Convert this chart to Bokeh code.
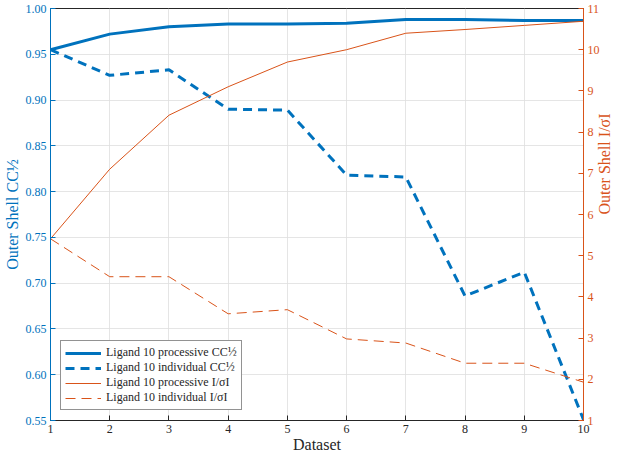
import math
from bokeh.plotting import figure
from bokeh.models import Range1d, LinearAxis, FixedTicker, Legend, LegendItem, NumeralTickFormatter
from bokeh.embed import file_html
from bokeh.resources import INLINE

datasets = [1, 2, 3, 4, 5, 6, 7, 8, 9, 10]
cc_processive = [0.955, 0.972, 0.980, 0.983, 0.983, 0.984, 0.988, 0.988, 0.987, 0.987]
cc_individual = [0.955, 0.927, 0.933, 0.890, 0.889, 0.818, 0.816, 0.686, 0.712, 0.551]
isig_processive = [5.41, 7.10, 8.41, 9.10, 9.70, 10.0, 10.40, 10.49, 10.59, 10.69]
isig_individual = [5.41, 4.49, 4.49, 3.59, 3.69, 2.98, 2.88, 2.39, 2.39, 1.93]
left_ticks = [0.55, 0.60, 0.65, 0.70, 0.75, 0.80, 0.85, 0.90, 0.95, 1.00]
right_ticks = [1, 2, 3, 4, 5, 6, 7, 8, 9, 10, 11]

BLUE = "#0072BD"
ORANGE = "#D95319"
DARK = "#262626"
FONT = "Liberation Serif"

p = figure(width=624, height=455, output_backend="svg", toolbar_location=None,
           x_range=Range1d(1, 10), y_range=Range1d(0.55, 1.00),
           min_border_left=44, min_border_right=30, min_border_top=8, min_border_bottom=30)
p.extra_y_ranges = {"right": Range1d(1, 11)}
p.outline_line_color = DARK
p.background_fill_color = "white"

r1 = p.line(datasets, cc_processive, line_color=BLUE, line_width=3)
r2 = p.line(datasets, cc_individual, line_color=BLUE, line_width=3, line_dash="9 6")
r3 = p.line(datasets, isig_processive, line_color=ORANGE, line_width=1, y_range_name="right")
r4 = p.line(datasets, isig_individual, line_color=ORANGE, line_width=1, line_dash="10 6", y_range_name="right")

# bottom axis
xa = p.xaxis[0]
xa.ticker = FixedTicker(ticks=datasets)
xa.axis_label = "Dataset"
xa.axis_label_text_font = FONT
xa.axis_label_text_font_style = "normal"
xa.axis_label_text_font_size = "16px"
xa.axis_label_text_color = DARK
xa.axis_label_standoff = 0
xa.major_label_standoff = 4
xa.major_label_text_font = FONT
xa.major_label_text_font_size = "12px"
xa.major_label_text_color = DARK
xa.axis_line_color = DARK
xa.major_tick_line_color = DARK
xa.major_tick_in = 5
xa.major_tick_out = 0
xa.minor_tick_line_color = None

# left axis
ya = p.yaxis[0]
ya.ticker = FixedTicker(ticks=left_ticks)
ya.formatter = NumeralTickFormatter(format="0.00")
ya.axis_label = "Outer Shell CC½"
ya.axis_label_text_font = FONT
ya.axis_label_text_font_style = "normal"
ya.axis_label_text_font_size = "16px"
ya.axis_label_text_color = BLUE
ya.axis_label_standoff = 2
ya.major_label_standoff = 4
ya.major_label_text_font = FONT
ya.major_label_text_font_size = "12px"
ya.major_label_text_color = BLUE
ya.axis_line_color = BLUE
ya.major_tick_line_color = BLUE
ya.major_tick_in = 5
ya.major_tick_out = 0
ya.minor_tick_line_color = None

# right axis
ra = LinearAxis(y_range_name="right", ticker=FixedTicker(ticks=right_ticks))
ra.axis_label = "Outer Shell I/σI"
ra.axis_label_orientation = math.pi / 2
ra.axis_label_text_font = FONT
ra.axis_label_text_font_style = "normal"
ra.axis_label_text_font_size = "16px"
ra.axis_label_text_color = ORANGE
ra.axis_label_standoff = 2
ra.major_label_standoff = 4
ra.major_label_text_font = FONT
ra.major_label_text_font_size = "12px"
ra.major_label_text_color = ORANGE
ra.axis_line_color = ORANGE
ra.major_tick_line_color = ORANGE
ra.major_tick_in = 5
ra.major_tick_out = 0
ra.minor_tick_line_color = None
p.add_layout(ra, "right")

p.xgrid.ticker = FixedTicker(ticks=datasets)
p.ygrid.ticker = FixedTicker(ticks=left_ticks)
p.grid.grid_line_color = "#dfdfdf"
p.grid.grid_line_alpha = 0.8

legend = Legend(items=[
    LegendItem(label="Ligand 10 processive CC½", renderers=[r1]),
    LegendItem(label="Ligand 10 individual CC½", renderers=[r2]),
    LegendItem(label="Ligand 10 processive I/σI", renderers=[r3]),
    LegendItem(label="Ligand 10 individual I/σI", renderers=[r4]),
], location="bottom_left")
legend.label_text_font = FONT
legend.label_text_font_size = "12px"
legend.label_text_color = DARK
legend.label_height = 12
legend.glyph_height = 12
legend.glyph_width = 36
legend.spacing = 0
legend.padding = 4
legend.margin = 10
legend.border_line_color = DARK
legend.background_fill_alpha = 1
p.add_layout(legend)

open("out.html", "w").write(file_html(p, INLINE))
